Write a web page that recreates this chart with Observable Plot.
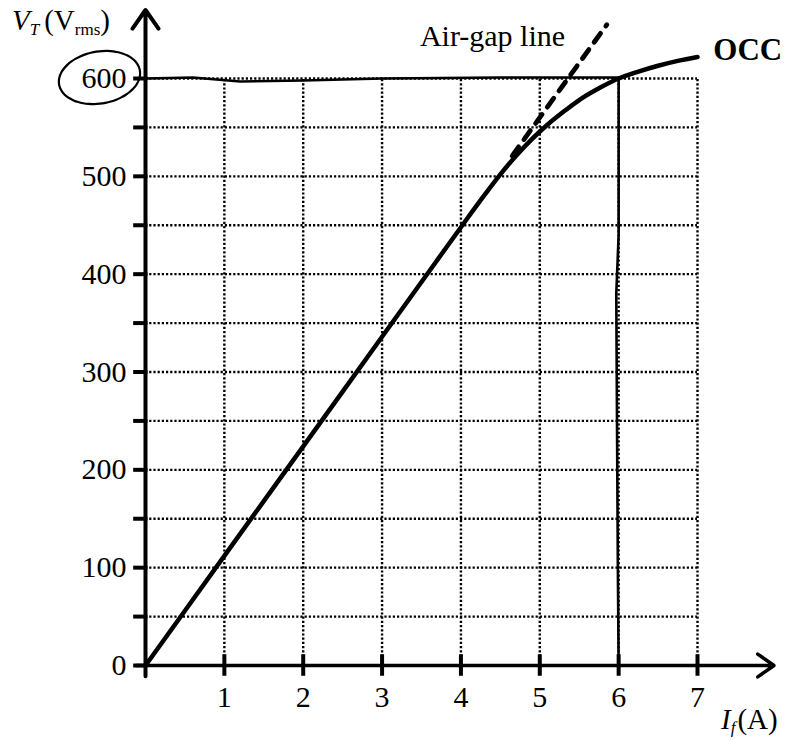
<!DOCTYPE html>
<html>
<head>
<meta charset="utf-8">
<script src="https://cdn.jsdelivr.net/npm/d3@7"></script>
<script src="https://cdn.jsdelivr.net/npm/@observablehq/plot@0.6"></script>
<style>
  html, body { margin: 0; padding: 0; background: #fff; }
  #chart svg { display: block; }
</style>
</head>
<body>
<div id="chart"></div>
<script>
// ---- data ----
const occI = [0, 0.5, 1, 1.5, 2, 2.5, 3, 3.5, 4, 4.3, 4.5, 4.7, 4.9, 5.1, 5.3, 5.5, 5.75, 6.0, 6.25, 6.5, 6.75, 7.0];
const occV = [0, 56, 112, 168, 224, 280, 336, 392, 448, 481, 502, 521, 538, 553, 566, 578, 590, 600, 607, 613, 618, 622];
const airI = [4.65, 5.85];
const airV = [521, 655];
const handI = [0, 0.6, 1.2, 2.0, 3.0, 4.5, 6.0, 6.0, 5.97, 5.99, 6.0];
const handV = [600, 601, 597, 598, 600, 601, 601, 440, 380, 100, 0];
const xTickVals = [1, 2, 3, 4, 5, 6, 7];
const xTickLabels = ["1", "2", "3", "4", "5", "6", "7"];
const yTickVals = [0, 50, 100, 150, 200, 250, 300, 350, 400, 450, 500, 550, 600];
const yLabelVals = [0, 100, 200, 300, 400, 500, 600];
const gridI = [1, 2, 3, 4, 5, 6, 7];
const gridV = [50, 100, 150, 200, 250, 300, 350, 400, 450, 500, 550, 600];

const occ = occI.map((d, i) => ({I: d, V: occV[i]}));
const air = airI.map((d, i) => ({I: d, V: airV[i]}));
const hand = handI.map((d, i) => ({I: d, V: handV[i]}));

const serif = "'Liberation Serif', 'Times New Roman', serif";
const pxPerA = (697 - 145) / 7;
const pxPerV = (665 - 78) / 600;

// ellipse drawn by hand around the "600" label (annotation)
const ell = d3.range(0, 361, 8).map(a => {
  const t = a * Math.PI / 180, rot = -10 * Math.PI / 180;
  const ex = 41 * Math.cos(t), ey = 26 * Math.sin(t);
  const px = 99 + ex * Math.cos(rot) - ey * Math.sin(rot);
  const py = 77 + ex * Math.sin(rot) + ey * Math.cos(rot);
  return {I: (px - 145) / pxPerA, V: (665 - py) / pxPerV};
});

const plot = Plot.plot({
  width: 801,
  height: 740,
  x: {domain: [0, 7], range: [145, 697], axis: null},
  y: {domain: [0, 600], range: [665, 78], axis: null},
  style: {background: "#fff"},
  marks: [
    // dotted grid
    Plot.ruleY(gridV, {x1: 0, x2: 7, stroke: "#000", strokeWidth: 2.4, strokeDasharray: "2.2,2"}),
    Plot.ruleX(gridI, {y1: 0, y2: 600, stroke: "#000", strokeWidth: 2.4, strokeDasharray: "2.2,2"}),
    // axes with arrow heads
    Plot.arrow([{x1: -0.12, y1: 0, x2: 7.97, y2: 0}], {x1: "x1", y1: "y1", x2: "x2", y2: "y2", stroke: "#000", strokeWidth: 3.5, headLength: 8.5, headAngle: 70}),
    Plot.arrow([{x1: 0, y1: -11, x2: 0, y2: 670}], {x1: "x1", y1: "y1", x2: "x2", y2: "y2", stroke: "#000", strokeWidth: 4, headLength: 8.5, headAngle: 70}),
    // ticks
    Plot.ruleY(yTickVals, {x1: -0.15, x2: 0.03, stroke: "#000", strokeWidth: 4}),
    Plot.ruleX(xTickVals, {y1: -11, y2: 11, stroke: "#000", strokeWidth: 4}),
    // tick labels
    Plot.text(yLabelVals, {x: 0, y: d => d, text: d => String(d), dx: -19, textAnchor: "end", fontSize: 30, fontFamily: serif, fill: "#000"}),
    Plot.text(xTickVals, {x: d => d, y: 0, text: (d, i) => xTickLabels[i], dy: 32, fontSize: 30, fontFamily: serif, fill: "#000"}),
    // hand-drawn guide lines
    Plot.line(hand, {x: "I", y: "V", stroke: "#000", strokeWidth: 2.6, curve: "linear"}),
    Plot.line(ell, {x: "I", y: "V", stroke: "#000", strokeWidth: 2.2, curve: "catmull-rom"}),
    // air-gap line
    Plot.line(air, {x: "I", y: "V", stroke: "#000", strokeWidth: 4.8, strokeDasharray: "11,9"}),
    // OCC
    Plot.line(occ, {x: "I", y: "V", stroke: "#000", strokeWidth: 4.5, curve: "monotone-x"}),
    // curve labels
    Plot.text(["Air-gap line"], {x: 3.48, y: 643, text: d => d, textAnchor: "start", fontSize: 30, fontFamily: serif, fill: "#000"}),
    Plot.text(["OCC"], {x: 7.2, y: 629, text: d => d, textAnchor: "start", fontSize: 31, fontWeight: "bold", fontFamily: serif, fill: "#000"})
  ]
});

document.getElementById("chart").appendChild(plot);

// axis titles with subscripts
const svg = d3.select(plot);
const yt = svg.append("text").attr("x", 12).attr("y", 30).attr("text-anchor", "start")
  .attr("font-family", serif).attr("font-size", 29).attr("fill", "#000");
yt.append("tspan").attr("font-style", "italic").text("V");
yt.append("tspan").attr("font-style", "italic").attr("font-size", 17).attr("dy", 5).text("T");
yt.append("tspan").attr("dy", -5).attr("dx", 5).text("(V");
yt.append("tspan").attr("font-size", 17).attr("dy", 5).text("rms");
yt.append("tspan").attr("dy", -5).text(")");

const xt = svg.append("text").attr("x", 721).attr("y", 729).attr("text-anchor", "start")
  .attr("font-family", serif).attr("font-size", 29).attr("fill", "#000");
xt.append("tspan").attr("font-style", "italic").text("I");
xt.append("tspan").attr("font-style", "italic").attr("font-size", 17).attr("dy", 4).text("f");
xt.append("tspan").attr("dy", -4).attr("dx", 2).text("(A)");
</script>
</body>
</html>
